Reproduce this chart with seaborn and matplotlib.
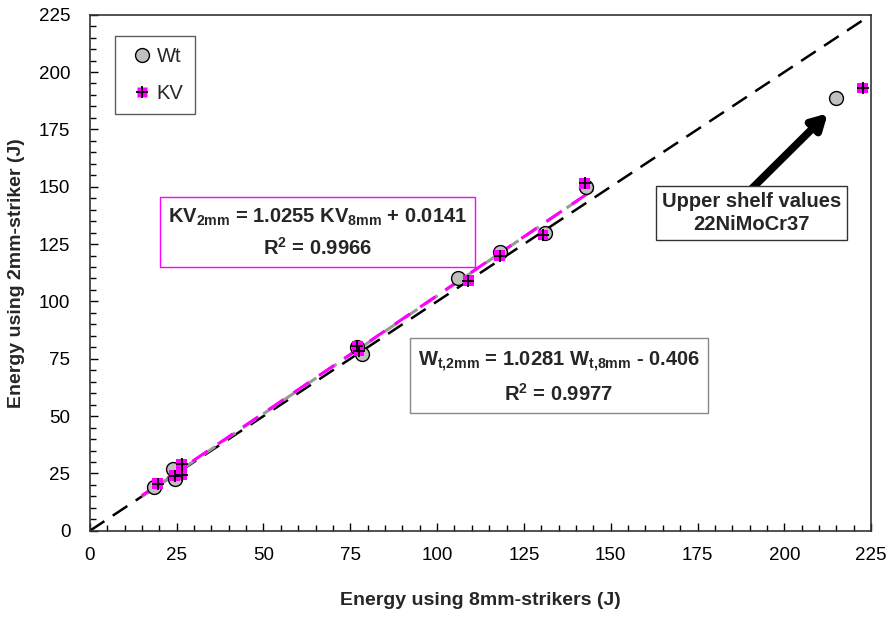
import numpy as np
import pandas as pd
import seaborn as sns
import matplotlib.pyplot as plt
from matplotlib.lines import Line2D

# Wt values (8mm striker vs 2mm striker)
wt_8mm = [18.5, 24.0, 24.5, 78.5, 77.0, 106.0, 118.0, 131.0, 143.0]
wt_2mm = [19.0, 27.0, 22.5, 77.0, 80.0, 110.0, 121.5, 130.0, 150.0]
# KV values
kv_8mm = [19.5, 26.5, 26.5, 24.5, 77.0, 77.5, 109.0, 118.0, 130.5, 142.5]
kv_2mm = [20.5, 29.0, 24.5, 24.0, 80.5, 78.5, 109.0, 120.0, 129.0, 151.5]
# upper shelf values 22NiMoCr37
shelf_wt = (215.0, 188.5)
shelf_kv = (222.5, 193.0)

# fits
kv_slope, kv_icpt = 1.0255, 0.0141
wt_slope, wt_icpt = 1.0281, -0.406
fit_range = [15.0, 145.0]

sns.set_style('ticks')
plt.rcParams['font.family'] = ['Liberation Sans', 'DejaVu Sans']
plt.rcParams['mathtext.fontset'] = 'custom'
plt.rcParams['mathtext.rm'] = 'Liberation Sans'
plt.rcParams['mathtext.bf'] = 'Liberation Sans:bold'

fig = plt.figure(figsize=(8.89, 6.38), dpi=100)
ax = fig.add_axes([0.101, 0.168, 0.879, 0.809])

# 1:1 line
diag = pd.DataFrame({'x': [0, 225], 'y': [0, 225]})
sns.lineplot(data=diag, x='x', y='y', ax=ax, color='black', lw=1.8,
             dashes=False, linestyle=(0, (7, 4)), zorder=2)

xf = np.array(fit_range)
ax.plot(xf, wt_slope * xf + wt_icpt, color='#999999', lw=2.2,
        linestyle=(0, (5, 3)), zorder=3)
ax.plot(xf, kv_slope * xf + kv_icpt, color='#ff00ff', lw=2.2,
        linestyle=(0, (6, 4)), zorder=3)

wt_df = pd.DataFrame({'x': wt_8mm + [shelf_wt[0]], 'y': wt_2mm + [shelf_wt[1]]})
kv_df = pd.DataFrame({'x': kv_8mm + [shelf_kv[0]], 'y': kv_2mm + [shelf_kv[1]]})

sns.scatterplot(data=wt_df, x='x', y='y', ax=ax, marker='o', s=100,
                color='#c0c0c0', edgecolor='black', linewidth=1.0, zorder=4)
sns.scatterplot(data=kv_df, x='x', y='y', ax=ax, marker='s', s=60,
                color='#ff00ff', edgecolor='none', zorder=5)
sns.scatterplot(data=kv_df, x='x', y='y', ax=ax, marker='+', s=70,
                color='black', linewidth=1.3, zorder=6)

ax.set_xlim(0, 225)
ax.set_ylim(0, 225)
ax.set_xticks(np.arange(0, 226, 25))
ax.set_yticks(np.arange(0, 226, 25))
ax.set_xticks(np.arange(0, 226, 5), minor=True)
ax.set_yticks(np.arange(0, 226, 5), minor=True)
ax.tick_params(which='both', direction='in', top=False, right=False,
               labelsize=13.5, colors='black')
ax.tick_params(which='major', length=6, width=1)
ax.tick_params(which='minor', length=4, width=1)
ax.tick_params(axis='x', pad=12)
ax.tick_params(axis='y', pad=14)
for sp in ax.spines.values():
    sp.set_color('#333333')
    sp.set_linewidth(1.2)

ax.set_xlabel('Energy using 8mm-strikers (J)', fontsize=14, fontweight='bold', labelpad=20)
ax.set_ylabel('Energy using 2mm-striker (J)', fontsize=14, fontweight='bold', labelpad=10)

ax.text(65.5, 130,
        r'KV$_{\mathbf{2mm}}$ = 1.0255 KV$_{\mathbf{8mm}}$ + 0.0141' + '\n' +
        r'R$^{\mathbf{2}}$ = 0.9966',
        ha='center', va='center', fontsize=14.5, fontweight='bold', linespacing=1.5,
        bbox=dict(boxstyle='square,pad=0.4', fc='white', ec='#ff00ff', lw=1))
ax.text(135, 67,
        r'W$_{\mathbf{t{,}2mm}}$ = 1.0281 W$_{\mathbf{t{,}8mm}}$ - 0.406' + '\n' +
        r'R$^{\mathbf{2}}$ = 0.9977',
        ha='center', va='center', fontsize=14.5, fontweight='bold', linespacing=1.5,
        bbox=dict(boxstyle='square,pad=0.4', fc='white', ec='#888888', lw=1))
ax.annotate('', xy=(212.5, 182), xytext=(190.5, 149),
            arrowprops=dict(arrowstyle='-|>,head_length=0.9,head_width=0.5',
                            color='black', lw=5.5, shrinkA=0, shrinkB=0),
            zorder=3)
ax.text(190.5, 138.5, 'Upper shelf values\n22NiMoCr37',
        ha='center', va='center', fontsize=14.5, fontweight='bold', linespacing=1.25,
        bbox=dict(boxstyle='square,pad=0.3', fc='white', ec='#333333', lw=1),
        zorder=5)

h_wt = Line2D([], [], marker='o', ls='none', ms=10, mfc='#c0c0c0', mec='black')
h_kv_sq = Line2D([], [], marker='s', ls='none', ms=7, mfc='#ff00ff', mec='none')
h_kv_pl = Line2D([], [], marker='+', ls='none', ms=8, mec='black', mew=1.3)
ax.legend([h_wt, (h_kv_sq, h_kv_pl)], ['Wt', 'KV'], loc='upper left',
          bbox_to_anchor=(0.02, 0.978), fontsize=14.5, frameon=True,
          fancybox=False, edgecolor='#333333', handletextpad=0.0,
          labelspacing=0.9, borderpad=0.55, handlelength=1.5)
ax.get_legend().get_frame().set_linewidth(1)

fig.savefig('out.png', dpi=100)
